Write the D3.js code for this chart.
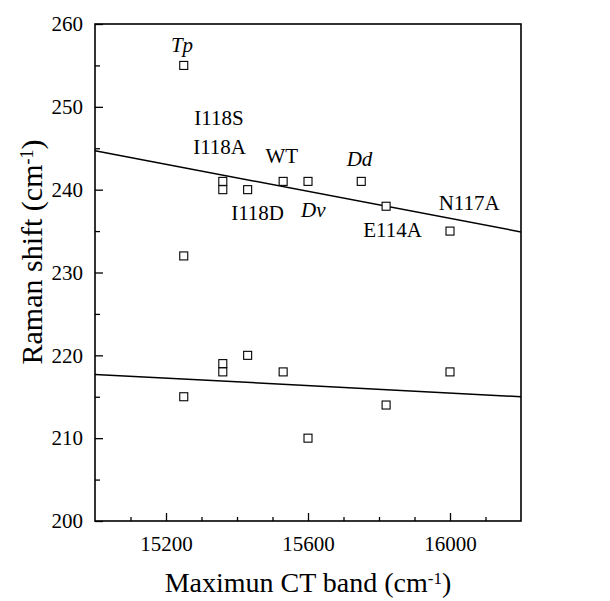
<!DOCTYPE html>
<html>
<head>
<meta charset="utf-8">
<script src="https://cdn.jsdelivr.net/npm/d3@7"></script>
<style>
  body { margin: 0; background: #fff; }
  svg text { font-family: "Times New Roman", "Liberation Serif", Tinos, "Nimbus Roman", "DejaVu Serif", serif; fill: #000; }
</style>
</head>
<body>
<div class="chart"></div>
<script>
var svgWidth = 610;
var svgHeight = 601;

var margin = { top: 24, right: 89, bottom: 80, left: 95 };

var width = svgWidth - margin.left - margin.right;
var height = svgHeight - margin.top - margin.bottom;

var serif = "'Times New Roman', 'Liberation Serif', Tinos, 'Nimbus Roman', 'DejaVu Serif', serif";

// measured points (CT band max vs Raman shift)
var ctBand = [15250, 15250, 15250, 15360, 15360, 15360, 15360, 15430, 15430,
              15530, 15530, 15600, 15600, 15750, 15820, 15820, 16000, 16000];
var ramanShift = [255, 232, 215, 241, 240, 219, 218, 240, 220,
                  241, 218, 241, 210, 241, 238, 214, 235, 218];

// linear fits, end points
var upperFitX = [15000, 16200];
var upperFitY = [244.7, 234.9];
var lowerFitX = [15000, 16200];
var lowerFitY = [217.7, 215.0];

// annotations
var labelNames = ["Tp", "I118S", "I118A", "WT", "Dd", "I118D", "Dv", "E114A", "N117A"];
var labelX = [15245, 15349, 15351, 15526, 15745, 15458, 15615, 15838, 16054];
var labelY = [256.6, 247.8, 244.3, 243.2, 242.85, 236.3, 236.7, 234.3, 237.5];
var labelItalic = [true, false, false, false, true, false, true, false, false];

var xTicks = [15200, 15600, 16000];
var xMinorTicks = [15100, 15300, 15400, 15500, 15700, 15800, 15900, 16100];
var yTicks = [200, 210, 220, 230, 240, 250, 260];
var yMinorTicks = [205, 215, 225, 235, 245, 255];

var svg = d3.select(".chart")
    .append("svg")
    .attr("width", svgWidth)
    .attr("height", svgHeight)
    .append("g")
    .attr("transform", "translate(" + margin.left + "," + margin.top + ")");

var chart = svg.append("g");

var xScale = d3.scaleLinear().domain([15000, 16200]).range([0, width]);
var yScale = d3.scaleLinear().domain([200, 260]).range([height, 0]);

// inward ticks
var bottomAxis = d3.axisBottom(xScale).tickValues(xTicks).tickSizeInner(-8).tickSizeOuter(0)
    .tickPadding(15).tickFormat(d3.format("d"));
var bottomMinor = d3.axisBottom(xScale).tickValues(xMinorTicks).tickSizeInner(-4).tickSizeOuter(0).tickFormat("");
var leftAxis = d3.axisLeft(yScale).tickValues(yTicks).tickSizeInner(-8).tickSizeOuter(0)
    .tickPadding(12).tickFormat(d3.format("d"));
var leftMinor = d3.axisLeft(yScale).tickValues(yMinorTicks).tickSizeInner(-5).tickSizeOuter(0).tickFormat("");

function styleAxis(g) {
    g.attr("font-family", serif).attr("font-size", 21);
    g.select(".domain").remove();
    g.selectAll("line").attr("stroke", "#000").attr("stroke-width", 1.3);
    g.selectAll("text").attr("fill", "#000");
}

chart.append("g").attr("transform", "translate(0," + height + ")").call(bottomAxis).call(styleAxis);
chart.append("g").attr("transform", "translate(0," + height + ")").call(bottomMinor).call(styleAxis);
chart.append("g").call(leftAxis).call(styleAxis);
chart.append("g").call(leftMinor).call(styleAxis);

// frame
chart.append("rect")
    .attr("x", 0).attr("y", 0)
    .attr("width", width).attr("height", height)
    .attr("fill", "none")
    .attr("stroke", "#000")
    .attr("stroke-width", 1.6);

// fit lines
var line = d3.line()
    .x(function(d) { return xScale(d[0]); })
    .y(function(d) { return yScale(d[1]); });

chart.append("path")
    .datum(d3.zip(upperFitX, upperFitY))
    .attr("d", line)
    .attr("fill", "none").attr("stroke", "#000").attr("stroke-width", 1.5);

chart.append("path")
    .datum(d3.zip(lowerFitX, lowerFitY))
    .attr("d", line)
    .attr("fill", "none").attr("stroke", "#000").attr("stroke-width", 1.5);

// points
var sq = 8;
chart.selectAll("rect.pt")
    .data(d3.zip(ctBand, ramanShift))
    .enter()
    .append("rect")
    .attr("class", "pt")
    .attr("x", function(d) { return xScale(d[0]) - sq / 2; })
    .attr("y", function(d) { return yScale(d[1]) - sq / 2; })
    .attr("width", sq)
    .attr("height", sq)
    .attr("fill", "#fff")
    .attr("stroke", "#000")
    .attr("stroke-width", 1.1);

// labels
chart.selectAll("text.lbl")
    .data(labelNames)
    .enter()
    .append("text")
    .attr("class", "lbl")
    .attr("x", function(d, i) { return xScale(labelX[i]); })
    .attr("y", function(d, i) { return yScale(labelY[i]); })
    .attr("text-anchor", "middle")
    .style("font-size", "21px")
    .style("font-style", function(d, i) { return labelItalic[i] ? "italic" : "normal"; })
    .text(function(d) { return d; });

// x axis title
var xt = chart.append("text")
    .attr("x", width / 2)
    .attr("y", height + 71)
    .attr("text-anchor", "middle")
    .style("font-size", "28px");
xt.append("tspan").text("Maximun CT band (cm");
xt.append("tspan").attr("dy", "-0.5em").style("font-size", "17px").text("-1");
xt.append("tspan").attr("dy", "0.3em").text(")");

// y axis title
var yt = chart.append("text")
    .attr("transform", "rotate(-90)")
    .attr("x", -228)
    .attr("y", -53)
    .attr("text-anchor", "middle")
    .style("font-size", "30px");
yt.append("tspan").text("Raman shift (cm");
yt.append("tspan").attr("dy", "-0.5em").style("font-size", "18px").text("-1");
yt.append("tspan").attr("dy", "0.3em").text(")");
</script>
</body>
</html>
